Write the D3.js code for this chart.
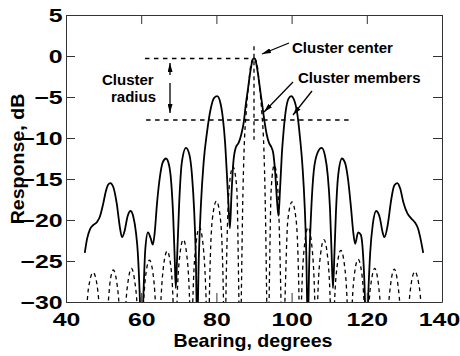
<!DOCTYPE html>
<html><head><meta charset="utf-8">
<script src="https://cdn.jsdelivr.net/npm/d3@7"></script>
<style>
body{margin:0;background:#fff}
svg{display:block}
text{font-family:"Liberation Sans",Arial,Helvetica,sans-serif;font-weight:bold;fill:#000}
</style>
</head><body>
<svg id="c" width="460" height="356"></svg>
<script>
// ---- data ----
const xTicks = [40, 60, 80, 100, 120, 140];
const yTicks = [5, 0, -5, -10, -15, -20, -25, -30];

const solidBearing = [45.0,45.6,46.4,47.3,48.3,49.0,49.9,50.6,51.2,51.8,52.6,53.5,54.3,54.9,55.6,56.4,57.2,57.9,58.6,59.1,59.6,60.1,60.6,61.1,61.8,62.5,63.1,63.6,64.2,64.9,65.7,66.6,67.4,68.0,68.5,68.9,69.2,69.6,70.1,70.8,71.9,72.8,73.5,74.1,74.5,74.9,75.3,75.9,76.6,77.5,78.5,79.4,80.2,81.0,81.7,82.3,82.8,83.2,83.6,84.0,84.5,85.2,85.9,86.6,87.3,87.8,88.4,89.0,89.5,90.0,90.5,91.0,91.6,92.2,92.8,93.4,94.0,94.6,95.1,95.6,96.1,96.5,96.9,97.4,97.9,98.5,99.2,99.9,100.7,101.5,102.2,102.9,103.5,103.9,104.3,104.7,105.2,105.9,106.9,108.0,108.9,109.6,110.2,110.6,111.0,111.4,111.8,112.4,113.4,114.2,115.0,115.8,116.4,116.9,117.7,118.4,118.9,119.4,119.9,120.4,120.9,121.6,122.5,123.5,124.2,124.7,125.6,126.5,127.3,128.1,128.9,129.7,130.8,131.8,132.8,133.6,134.3,135.0];
const solidResponse = [-24.0,-22.3,-21.1,-20.6,-20.2,-19.6,-18.0,-16.5,-15.7,-15.5,-16.0,-18.0,-20.8,-22.1,-21.3,-19.5,-18.9,-19.6,-21.5,-24.0,-29.0,-36.0,-29.0,-23.5,-21.5,-22.2,-23.0,-21.5,-18.0,-15.0,-13.0,-12.5,-13.3,-15.5,-19.5,-24.5,-28.3,-24.0,-18.0,-13.0,-11.2,-12.0,-14.5,-19.0,-24.0,-33.0,-25.0,-18.0,-13.0,-9.3,-6.4,-5.1,-4.9,-5.6,-7.5,-10.5,-14.5,-18.0,-21.0,-17.0,-13.0,-11.1,-10.6,-9.6,-8.0,-6.0,-4.0,-2.0,-0.7,-0.25,-0.7,-2.0,-4.0,-6.0,-8.0,-9.6,-10.6,-11.1,-11.8,-14.0,-17.5,-19.5,-16.5,-12.0,-9.0,-6.5,-5.2,-4.9,-5.4,-7.0,-9.8,-13.5,-18.5,-24.0,-33.0,-25.0,-19.0,-14.0,-11.8,-11.2,-12.2,-14.5,-18.5,-23.5,-28.3,-24.0,-19.0,-14.5,-12.5,-13.0,-15.0,-18.5,-21.5,-22.9,-21.5,-21.8,-23.5,-28.0,-36.0,-29.0,-24.0,-20.5,-18.9,-19.8,-21.5,-22.1,-20.5,-17.5,-15.8,-15.5,-16.2,-17.8,-19.2,-19.8,-20.3,-21.0,-22.3,-24.0];

const dashedBearing = [45.0,45.6,46.3,47.2,48.1,48.8,49.9,51.2,51.8,52.6,53.4,54.1,55.0,55.9,56.6,57.4,58.2,58.9,59.8,60.6,61.3,62.2,63.1,63.8,64.5,65.2,66.0,66.9,67.8,68.5,69.0,69.5,70.3,71.2,72.1,72.9,73.3,73.7,74.6,75.5,76.4,77.3,77.8,78.1,78.9,80.0,81.1,81.9,82.2,82.5,83.4,84.4,85.4,86.0,86.3,86.6,87.0,87.4,87.9,88.5,89.2,90.0,90.8,91.5,92.1,92.6,93.0,93.4,93.7,94.0,94.6,95.4,96.3,97.2,97.6,98.2,99.0,100.1,101.2,102.0,102.3,102.6,103.5,104.4,105.3,106.2,106.6,106.9,107.7,108.6,109.5,110.3,110.8,111.4,112.2,113.1,114.0,114.8,115.4,116.1,116.8,117.7,118.6,119.3,120.0,120.6,121.3,122.1,122.9,123.6,124.7,125.8,126.5,127.3,128.1,128.8,130.0,131.2,131.9,132.8,133.7,134.4,135.0];
const dashedResponse = [-38,-30.3,-27.5,-26.4,-27.5,-30.3,-40,-30.3,-27.3,-26.1,-27.3,-30.3,-40,-30.3,-27.2,-25.9,-27.2,-30.3,-40,-30.3,-26.4,-24.9,-26.4,-30.3,-40,-30.3,-25.4,-23.8,-25.4,-30.3,-40,-30.3,-24.2,-22.4,-24.2,-30.3,-40,-30.3,-22.8,-20.9,-22.8,-30.3,-40,-30.3,-20.0,-17.7,-20.0,-30.3,-40,-30.3,-16.0,-13.5,-16.0,-30.3,-40,-30.3,-18.0,-11.0,-7.0,-3.8,-1.0,-0.2,-1.0,-3.8,-7.0,-11.0,-18.0,-30.3,-40,-30.3,-16.0,-13.3,-16.0,-30.3,-40,-30.3,-20.0,-17.8,-20.0,-30.3,-40,-30.3,-22.8,-20.9,-22.8,-30.3,-40,-30.3,-24.2,-22.4,-24.2,-30.3,-40,-30.3,-25.3,-23.7,-25.3,-30.3,-40,-30.3,-26.3,-24.8,-26.3,-30.3,-40,-30.3,-27.2,-25.9,-27.2,-30.3,-40,-30.3,-27.3,-26.0,-27.3,-30.3,-40,-30.3,-27.5,-26.3,-27.5,-30.3,-38];

// annotation levels (dB) and extents (degrees)
const clusterTop = -0.3, clusterBottom = -7.8, clusterCenter = 90;

// ---- layout ----
const W = 460, H = 356, m = {l: 66, t: 15, r: 18, b: 54};
const iw = W - m.l - m.r, ih = H - m.t - m.b;
const x = d3.scaleLinear().domain([40, 140]).range([0, iw]);
const y = d3.scaleLinear().domain([-30, 5]).range([ih, 0]);
const svg = d3.select('#c');
const g = svg.append('g').attr('transform', `translate(${m.l},${m.t})`);

g.append('clipPath').attr('id', 'clip').append('rect').attr('width', iw).attr('height', ih);

const line = d3.line().x(d => x(d[0])).y(d => y(d[1])).curve(d3.curveMonotoneX);
const solid = solidBearing.map((b, i) => [b, solidResponse[i]]);
const dashed = dashedBearing.map((b, i) => [b, dashedResponse[i]]);

const plot = g.append('g').attr('clip-path', 'url(#clip)');
plot.append('path').datum(dashed).attr('d', line).attr('fill', 'none')
  .attr('stroke', '#000').attr('stroke-width', 1.3).attr('stroke-dasharray', '4,3.5');
plot.append('path').datum(solid).attr('d', line).attr('fill', 'none')
  .attr('stroke', '#000').attr('stroke-width', 1.8).attr('stroke-linejoin', 'round');

// annotation dashed lines
const ann = g.append('g').attr('fill', 'none').attr('stroke', '#000').attr('stroke-width', 1.4).attr('stroke-dasharray', '4.5,4.5');
ann.append('line').attr('x1', x(61.0)).attr('x2', x(89.6)).attr('y1', y(clusterTop)).attr('y2', y(clusterTop));
ann.append('line').attr('x1', x(61.3)).attr('x2', x(116.3)).attr('y1', y(clusterBottom)).attr('y2', y(clusterBottom));
ann.append('line').attr('x1', x(clusterCenter)).attr('x2', x(clusterCenter)).attr('y1', y(1.2)).attr('y2', y(-10.2))
  .attr('stroke-dasharray', '4,3.5').attr('stroke-width', 1.3);

// axes
const sx = 1.38;
const axStyle = sel => {
  sel.select('.domain').attr('stroke', '#333');
  sel.selectAll('.tick line').attr('stroke', '#333');
};
const xAxis = g.append('g').attr('transform', `translate(0,${ih})`)
  .call(d3.axisBottom(x).tickValues(xTicks).tickSizeInner(-9).tickSizeOuter(0).tickPadding(11).tickFormat(d3.format('d')));
xAxis.call(axStyle);
xAxis.selectAll('text').attr('font-size', 18).attr('font-family', null)
  .attr('x', d => d === 140 ? -3 / sx : 0)
  .attr('transform', `scale(${sx},1)`);

const yAxis = g.append('g')
  .call(d3.axisLeft(y).tickValues(yTicks).tickSizeInner(-9).tickSizeOuter(0).tickPadding(3.5).tickFormat(d3.format('d')));
yAxis.call(axStyle);
yAxis.selectAll('text').attr('font-size', 18).attr('font-family', null)
  .attr('x', -3.5 / sx).attr('dy', '0.36em').attr('transform', `scale(${sx},1)`);

const topAxis = g.append('g').call(d3.axisTop(x).tickValues(xTicks).tickSizeInner(-9).tickSizeOuter(0).tickFormat(''));
topAxis.call(axStyle);
const rightAxis = g.append('g').attr('transform', `translate(${iw},0)`)
  .call(d3.axisRight(y).tickValues(yTicks).tickSizeInner(-9).tickSizeOuter(0).tickFormat(''));
rightAxis.call(axStyle);
svg.selectAll('.tick text').style('font-family', '"Liberation Sans",Arial,sans-serif').style('font-weight', 'bold').attr('fill', '#000');

// axis titles
svg.append('text').attr('transform', 'translate(253,347) scale(1.06,1)').attr('text-anchor', 'middle')
  .attr('font-size', 18.5).text('Bearing, degrees');
svg.append('text').attr('transform', 'translate(24,159) rotate(-90) scale(1.06,1)').attr('text-anchor', 'middle')
  .attr('font-size', 18.5).text('Response, dB');

// arrows
const defs = svg.append('defs');
defs.append('marker').attr('id', 'ah').attr('viewBox', '0 0 9 5').attr('refX', 9).attr('refY', 2.5)
  .attr('markerWidth', 9).attr('markerHeight', 5).attr('markerUnits', 'userSpaceOnUse').attr('orient', 'auto')
  .append('path').attr('d', 'M0,0L9,2.5L0,5Z').attr('fill', '#000');

const arrows = [
  [170, 75, 170, 63],
  [170, 83, 170, 113],
  [289, 43, 262, 54],
  [293, 82, 264, 112],
  [312, 91, 293, 115]
];
svg.append('g').selectAll('line').data(arrows).join('line')
  .attr('x1', d => d[0]).attr('y1', d => d[1]).attr('x2', d => d[2]).attr('y2', d => d[3])
  .attr('stroke', '#000').attr('stroke-width', 1.3).attr('marker-end', 'url(#ah)');

// annotation texts
const labels = [
  ['Cluster center', 292, 53],
  ['Cluster members', 298, 83],
  ['Cluster', 102, 85],
  ['radius', 111, 101.5]
];
svg.append('g').selectAll('text').data(labels).join('text')
  .attr('x', d => d[1]).attr('y', d => d[2]).attr('font-size', 15).text(d => d[0]);
</script>
</body></html>
